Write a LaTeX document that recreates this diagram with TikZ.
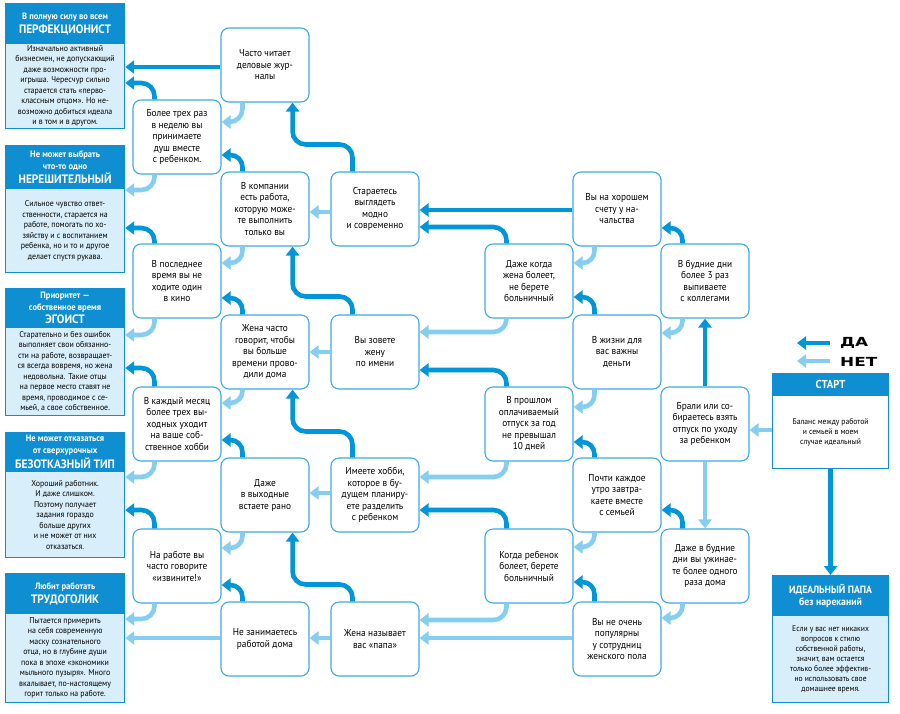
\documentclass[tikz,border=0pt]{standalone}
\usepackage{fontspec}
\setmainfont[FakeStretch=0.93]{PT Sans}
\newfontfamily\legfont[FakeStretch=1.35]{DejaVu Sans}
\usetikzlibrary{arrows.meta,calc}
\definecolor{dkb}{HTML}{0096D9}
\definecolor{ltb}{HTML}{86CEF1}
\definecolor{bord}{HTML}{3DAAE2}
\definecolor{hdr}{HTML}{0F8FD2}
\definecolor{pale}{HTML}{D8EEFA}
\newcommand\hsm{\fontsize{9.2}{9.8}\selectfont}
\newcommand\hbg{\fontsize{12.2}{13.5}\selectfont}
\begin{document}
\begin{tikzpicture}[x=1pt,y=-1pt,
 q/.style={draw=bord, line width=1.1pt, rounded corners=8pt, fill=white, minimum width=88pt, minimum height=74pt, inner sep=1pt, align=center, font=\fontsize{10}{11.5}\selectfont},
 yes/.style={draw=dkb, line width=4.6pt, -{Triangle[width=13pt,length=9pt]}, rounded corners=13pt},
 no/.style={yes, draw=ltb},
 hd/.style={fill=hdr, draw=hdr, line width=1.2pt, text=white, minimum width=119pt, anchor=north west, inner sep=1pt, align=center, font=\bfseries},
 bd/.style={fill=pale, draw=hdr, line width=1.2pt, minimum width=119pt, anchor=north west, inner sep=1pt, align=center, font=\fontsize{8.5}{10.5}\selectfont},
]
\useasboundingbox[fill=white] (0,0) rectangle (900,713);

% ---------- left result boxes ----------
\node[hd, minimum height=40pt] (p1h) at (5,3) {\hsm В полную силу во всем\\[2pt]\hbg ПЕРФЕКЦИОНИСТ};
\node[bd, minimum height=85pt] (p1b) at (5,43) {Изначально активный\\бизнесмен, не допускающий\\даже возможности про-\\игрыша. Чересчур сильно\\старается стать «перво-\\классным отцом». Но не-\\возможно добиться идеала\\и в том и в другом.};

\node[hd, minimum height=43pt] (p2h) at (5,145) {\hsm Не может выбрать\\\hsm что-то одно\\[2pt]\hbg НЕРЕШИТЕЛЬНЫЙ};
\node[bd, minimum height=84pt] (p2b) at (5,188) {Сильное чувство ответ-\\ственности, старается на\\работе, помогать по хо-\\зяйству и с воспитанием\\ребенка, но и то и другое\\делает спустя рукава.};

\node[hd, minimum height=39pt] (p3h) at (5,288) {\hsm Приоритет —\\\hsm собственное время\\[1pt]\hbg ЭГОИСТ};
\node[bd, minimum height=88pt] (p3b) at (5,327) {Старательно и без ошибок\\выполняет свои обязанно-\\сти на работе, возвращает-\\ся всегда вовремя, но жена\\недовольна. Такие отцы\\на первое место ставят не\\время, проводимое с се-\\мьей, а свое собственное.};

\node[hd, minimum height=39pt] (p4h) at (5,432) {\hsm Не может отказаться\\\hsm от сверхурочных\\[1pt]\hbg БЕЗОТКАЗНЫЙ ТИП};
\node[bd, minimum height=86pt] (p4b) at (5,471) {Хороший работник.\\И даже слишком.\\Поэтому получает\\задания гораздо\\больше других\\и не может от них\\отказаться.};

\node[hd, minimum height=40pt] (p5h) at (5,573) {\hsm Любит работать\\[2pt]\hbg ТРУДОГОЛИК};
\node[bd, minimum height=89pt] (p5b) at (5,613) {Пытается примерить\\на себя современную\\маску сознательного\\отца, но в глубине души\\пока в эпохе «экономики\\мыльного пузыря». Много\\вкалывает, по-настоящему\\горит только на работе.};

% ---------- question nodes ----------
\node[q] (b1) at (265,65) {Часто читает\\деловые жур-\\налы};
\node[q] (a1) at (177,137) {Более трех раз\\в неделю вы\\принимаете\\душ вместе\\с ребенком.};
\node[q] (b2) at (265,209) {В компании\\есть работа,\\которую може-\\те выполнить\\только вы};
\node[q] (c1) at (375,209) {Стараетесь\\выглядеть\\модно\\и современно};
\node[q] (e1) at (617,209) {Вы на хорошем\\счету у на-\\чальства};
\node[q] (a2) at (177,281) {В последнее\\время вы не\\ходите один\\в кино};
\node[q] (d1) at (529,281) {Даже когда\\жена болеет,\\не берете\\больничный};
\node[q] (f1) at (705,281) {В будние дни\\более 3 раз\\выпиваете\\с коллегами};
\node[q] (b3) at (265,352) {Жена часто\\говорит, чтобы\\вы больше\\времени прово-\\дили дома};
\node[q] (c2) at (375,352) {Вы зовете\\жену\\по имени};
\node[q] (e2) at (617,352) {В жизни для\\вас важны\\деньги};
\node[q] (a3) at (177,424) {В каждый месяц\\более трех вы-\\ходных уходит\\на ваше соб-\\ственное хобби};
\node[q] (d2) at (529,424) {В прошлом\\оплачиваемый\\отпуск за год\\не превышал\\10 дней};
\node[q] (f2) at (705,424) {Брали или со-\\бираетесь взять\\отпуск по уходу\\за ребенком};
\node[q] (b4) at (265,495) {Даже\\в выходные\\встаете рано};
\node[q] (c3) at (375,495) {Имеете хобби,\\которое в бу-\\дущем планиру-\\ете разделить\\с ребенком};
\node[q] (e3) at (617,495) {Почти каждое\\утро завтра-\\каете вместе\\с семьей};
\node[q] (a4) at (177,566) {На работе вы\\часто говорите\\«извините!»};
\node[q] (d3) at (529,566) {Когда ребенок\\болеет, берете\\больничный};
\node[q] (f3) at (705,566) {Даже в будние\\дни вы ужинае-\\те более одного\\раза дома};
\node[q] (b5) at (265,639) {Не занимаетесь\\работой дома};
\node[q] (c4) at (375,639) {Жена называет\\вас «папа»};
\node[q] (e4) at (617,639) {Вы не очень\\популярны\\у сотрудниц\\женского пола};

% ---------- start / ideal ----------
\node[hd, minimum width=116pt, minimum height=22pt, font=\bfseries\fontsize{11.5}{13}\selectfont] (sth) at (772,373) {СТАРТ};
\node[bd, fill=white, minimum width=116pt, minimum height=73pt, font=\fontsize{8.2}{10}\selectfont] (stb) at (772,395) {Баланс между работой\\и семьей в моем\\случае идеальный};
\node[hd, minimum width=116pt, minimum height=40pt, font=\bfseries\fontsize{10.5}{12}\selectfont] (idh) at (772,575) {ИДЕАЛЬНЫЙ ПАПА\\без нареканий};
\node[bd, minimum width=116pt, minimum height=87pt, font=\fontsize{8.2}{10}\selectfont] (idb) at (772,615) {Если у вас нет никаких\\вопросов к стилю\\собственной работы,\\значит, вам остается\\только более эффектив-\\но использовать свое\\домашнее время.};

% ---------- legend ----------
\node[anchor=west, inner sep=0pt, font=\legfont\bfseries\fontsize{12.5}{13}\selectfont] (lyes) at (840,343) {ДА};
\node[anchor=west, inner sep=0pt, font=\legfont\bfseries\fontsize{12.5}{13}\selectfont] (lno) at (840,362) {НЕТ};
\coordinate (lyesa) at (830,343);
\coordinate (lyesb) at (797,343);
\coordinate (lnoa) at (830,361);
\coordinate (lnob) at (797,361);
\draw[yes] (lyesa) -- (lyesb);
\draw[no] (lnoa) -- (lnob);

% ---------- connectors ----------
% column A
\draw[yes] ([xshift=22pt]a1.north west) |- (p1b.east |- 0,83);
\draw[yes] ([xshift=22pt]a2.north west) |- (p2b.east |- 0,228);
\draw[yes] ([xshift=22pt]a3.north west) |- (p3b.east |- 0,368);
\draw[yes] ([xshift=22pt]a4.north west) |- (p4b.east |- 0,510);
\draw[no] ([xshift=22pt]a1.south west) |- (p2b.east |- 0,190);
\draw[no] ([xshift=22pt]a2.south west) |- (p3b.east |- 0,335);
\draw[no] ([xshift=22pt]a3.south west) |- (p4b.east |- 0,477);
\draw[no] ([xshift=22pt]a4.south west) |- (p5b.east |- 0,619);
% column B
\draw[yes] (b1.west |- 0,67) -- (p1b.east |- 0,67);
\draw[no] ([xshift=22pt]b1.south west) |- (a1.east |- 0,122);
\draw[yes, rounded corners=12pt] ([xshift=22pt]b2.north west) |- (a1.east |- 0,155);
\draw[no, rounded corners=12pt] ([xshift=22pt]b2.south west) |- (a2.east |- 0,263);
\draw[yes, rounded corners=12pt] ([xshift=22pt]b3.north west) |- (a2.east |- 0,298);
\draw[no, rounded corners=12pt] ([xshift=22pt]b3.south west) |- (a3.east |- 0,403);
\draw[yes, rounded corners=12pt] ([xshift=22pt]b4.north west) |- (a3.east |- 0,440);
\draw[no, rounded corners=12pt] ([xshift=22pt]b4.south west) |- (a4.east |- 0,548);
\draw[yes, rounded corners=12pt] ([xshift=22pt]b5.north west) |- (a4.east |- 0,585);
\draw[no] (b5.west |- 0,638) -- (p5b.east |- 0,638);
% column C
\draw[yes] ([xshift=22pt]c1.north west) -- ++(0,-27) -| ([xshift=-17pt]b1.south east);
\draw[yes] ([xshift=22pt]c2.north west) -- ++(0,-18) -| ([xshift=-17pt]b2.south east);
\draw[yes] ([xshift=22pt]c3.north west) -- ++(0,-26) -| ([xshift=-17pt]b3.south east);
\draw[yes] ([xshift=22pt]c4.north west) -- ++(0,-17) -| ([xshift=-17pt]b4.south east);
\draw[no] (c1.west |- 0,212) -- (b2.east |- 0,212);
\draw[no] (c2.west |- 0,352) -- (b3.east |- 0,352);
\draw[no] (c3.west |- 0,493) -- (b4.east |- 0,493);
\draw[no] (c4.west |- 0,638) -- (b5.east |- 0,638);
% column D
\draw[yes] ([xshift=22pt]d1.north west) |- (c1.east |- 0,227);
\draw[no] ([xshift=22pt]d1.south west) |- (c2.east |- 0,332);
\draw[yes] ([xshift=22pt]d2.north west) |- (c2.east |- 0,370);
\draw[no] ([xshift=22pt]d2.south west) |- (c3.east |- 0,477);
\draw[yes] ([xshift=22pt]d3.north west) |- (c3.east |- 0,510);
\draw[no] ([xshift=22pt]d3.south west) |- (c4.east |- 0,620);
% column E
\draw[yes] (e1.west |- 0,210) -- (c1.east |- 0,210);
\draw[no, rounded corners=12pt] ([xshift=22pt]e1.south west) |- (d1.east |- 0,263);
\draw[yes, rounded corners=12pt] ([xshift=22pt]e2.north west) |- (d1.east |- 0,297);
\draw[no, rounded corners=12pt] ([xshift=22pt]e2.south west) |- (d2.east |- 0,407);
\draw[yes, rounded corners=12pt] ([xshift=22pt]e3.north west) |- (d2.east |- 0,442);
\draw[no, rounded corners=12pt] ([xshift=22pt]e3.south west) |- (d3.east |- 0,547);
\draw[yes, rounded corners=12pt] ([xshift=22pt]e4.north west) |- (d3.east |- 0,582);
\draw[no] (e4.west |- 0,638) -- (c4.east |- 0,638);
% column F
\draw[yes, rounded corners=12pt] ([xshift=22pt]f1.north west) |- (e1.east |- 0,228);
\draw[no, rounded corners=12pt] ([xshift=22pt]f1.south west) |- (e2.east |- 0,333);
\draw[yes] (f2.north) -- (f1.south);
\draw[no] (f2.south) -- (f3.north);
\draw[yes, rounded corners=12pt] ([xshift=22pt]f3.north west) |- (e3.east |- 0,510);
\draw[no, rounded corners=12pt] ([xshift=22pt]f3.south west) |- (e4.east |- 0,618);
% start
\draw[no] (stb.west |- 0,430) -- (f2.east |- 0,430);
\draw[yes] (stb.south) -- (idh.north);
\end{tikzpicture}
\end{document}
